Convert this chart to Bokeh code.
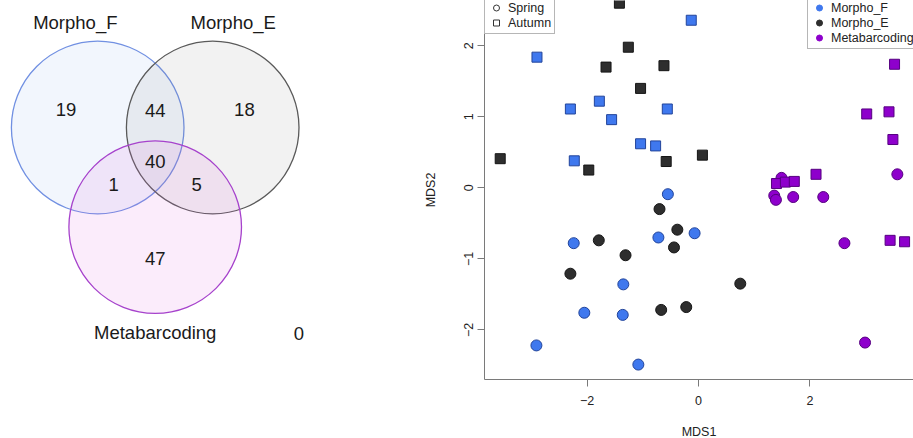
import math
from bokeh.plotting import figure
from bokeh.layouts import row
from bokeh.models import Range1d, FixedTicker, Legend, LegendItem, ColumnDataSource
from bokeh.core.properties import value
from bokeh.embed import file_html
from bokeh.resources import INLINE

# ---------------- data ----------------
set_names = ["Morpho_F", "Morpho_E", "Metabarcoding"]
# regions: F only, F&E, E only, F&E&M, F&M, E&M, M only, none
region_counts = [19, 44, 18, 40, 1, 5, 47, 0]

groups = ["Morpho_F", "Morpho_E", "Metabarcoding"]
seasons = ["Spring", "Autumn"]

morphoF_spring_mds1 = [-0.55, -2.24, -0.72, -0.07, -1.35, -2.05, -1.36, -2.91, -1.08]
morphoF_spring_mds2 = [-0.09, -0.78, -0.70, -0.64, -1.36, -1.76, -1.79, -2.22, -2.49]
morphoF_autumn_mds1 = [-0.13, -2.90, -2.30, -1.78, -1.56, -0.56, -1.04, -0.77, -2.23]
morphoF_autumn_mds2 = [2.36, 1.84, 1.11, 1.22, 0.96, 1.11, 0.62, 0.59, 0.38]

morphoE_spring_mds1 = [-0.70, -1.79, -0.38, -0.44, -1.31, -2.30, 0.75, -0.67, -0.22]
morphoE_spring_mds2 = [-0.30, -0.74, -0.59, -0.84, -0.95, -1.21, -1.35, -1.72, -1.68]
morphoE_autumn_mds1 = [-1.42, -1.26, -1.66, -0.62, -1.04, -3.56, -1.97, -0.58, 0.07]
morphoE_autumn_mds2 = [2.60, 1.98, 1.70, 1.72, 1.40, 0.41, 0.25, 0.37, 0.46]

metab_spring_mds1 = [3.57, 1.49, 1.36, 1.39, 1.70, 2.24, 2.62, 2.99]
metab_spring_mds2 = [0.19, 0.14, -0.11, -0.17, -0.13, -0.13, -0.78, -2.18]
metab_autumn_mds1 = [3.52, 3.02, 3.42, 3.49, 2.11, 1.40, 1.56, 1.72, 3.44, 3.70]
metab_autumn_mds2 = [1.74, 1.04, 1.07, 0.68, 0.19, 0.06, 0.08, 0.09, -0.74, -0.76]

x_ticks = [-2, 0, 2]
y_ticks = [-2, -1, 0, 1, 2]

# ---------------- styles ----------------
FONT = "Liberation Sans"
TXT = "#1a1a1a"
grp_fill = {"Morpho_F": "#3f78ee", "Morpho_E": "#2e2e2e", "Metabarcoding": "#8e00cc"}
grp_line = {"Morpho_F": "#22449a", "Morpho_E": "#151515", "Metabarcoding": "#560080"}

# ---------------- Venn diagram ----------------
VW, VH = 420, 438
venn = figure(frame_width=VW, frame_height=VH, x_range=Range1d(0, VW), y_range=Range1d(VH, 0),
              output_backend="svg", toolbar_location=None, min_border=0,
              x_axis_location=None, y_axis_location=None, outline_line_color=None,
              background_fill_color="white", border_fill_color="white")
venn.grid.visible = False

# geometry: three equal circles on an equilateral triangle
mid_x, top_y, d, r = 154.7, 127.0, 115.0, 86.3
cx = [mid_x - d / 2, mid_x + d / 2, mid_x]
cy = [top_y, top_y, top_y + d * math.sqrt(3) / 2]
venn.circle(x=cx, y=cy, radius=r,
            fill_color=["#4178e6", "#808080", "#e164e1"], fill_alpha=[0.065, 0.10, 0.12],
            line_color=["#7190e2", "#5a5a5a", "#a642cc"], line_width=1.3)

gx, gy = sum(cx) / 3, sum(cy) / 3

def unit(ax, ay):
    n = math.hypot(ax, ay)
    return ax / n, ay / n

def toward(i, dist):
    ux, uy = unit(cx[i] - gx, cy[i] - gy)
    return gx + ux * dist, gy + uy * dist

def away(i, dist):
    ux, uy = unit(gx - cx[i], gy - cy[i])
    return gx + ux * dist, gy + uy * dist

# single regions: outward toward own centre; pair regions: away from the third centre
pos = [toward(0, 103), away(2, 50), toward(1, 103), (gx, gy + 1), away(1, 48), away(0, 48), toward(2, 98),
       (cx[1] + r, cy[2] + 106.5)]
lab_x = [p[0] for p in pos]
lab_y = [p[1] for p in pos]
venn.text(x=lab_x, y=lab_y, text=[str(c) for c in region_counts], text_align="center", text_baseline="middle",
          text_font=value(FONT), text_font_size=value("18.5px"), text_color=TXT)

cat_ang = [-12.0, 11.0, 180.0]
cat_dist = [107.7, 107.3, 105.0]
cat_x = [cx[i] + cat_dist[i] * math.sin(math.radians(cat_ang[i])) for i in range(3)]
cat_y = [cy[i] - cat_dist[i] * math.cos(math.radians(cat_ang[i])) for i in range(3)]
venn.text(x=cat_x, y=cat_y, text=set_names, text_align="center", text_baseline="middle",
          text_font=value(FONT), text_font_size=value("18.5px"), text_color=TXT)

# ---------------- NMDS scatter ----------------
FW, FH = 429, 379
sc = figure(frame_width=FW, frame_height=FH, x_range=Range1d(-3.842, 3.860), y_range=Range1d(-2.70, 2.638),
            min_border_left=64, min_border_right=0, min_border_top=0, min_border_bottom=59,
            output_backend="svg", toolbar_location=None, outline_line_color=None,
            background_fill_color="white", border_fill_color="white",
            x_axis_label="MDS1", y_axis_label="MDS2")
sc.grid.visible = False

for ax in (sc.xaxis[0], sc.yaxis[0]):
    ax.axis_line_color = "#7a7a7a"
    ax.major_tick_line_color = "#7a7a7a"
    ax.minor_tick_line_color = None
    ax.major_tick_out = 7
    ax.major_tick_in = 0
    ax.major_label_text_font = FONT
    ax.major_label_text_font_size = "12.5px"
    ax.major_label_text_color = "#222222"
    ax.axis_label_text_font = FONT
    ax.axis_label_text_font_size = "12.5px"
    ax.axis_label_text_font_style = "normal"
    ax.axis_label_text_color = "#222222"

sc.xaxis.ticker = FixedTicker(ticks=x_ticks)
sc.yaxis.ticker = FixedTicker(ticks=y_ticks)
sc.xaxis.major_label_overrides = {t: str(t).replace("-", "\u2212") for t in x_ticks}
sc.yaxis.major_label_overrides = {t: str(t).replace("-", "\u2212") for t in y_ticks}
sc.xaxis.major_label_standoff = 9
sc.xaxis.axis_label_standoff = 17
sc.yaxis.major_label_standoff = 4
sc.yaxis.major_label_orientation = "vertical"
sc.yaxis.axis_label_standoff = 24

data = {
    ("Morpho_F", "Spring"): (morphoF_spring_mds1, morphoF_spring_mds2),
    ("Morpho_E", "Spring"): (morphoE_spring_mds1, morphoE_spring_mds2),
    ("Metabarcoding", "Spring"): (metab_spring_mds1, metab_spring_mds2),
    ("Morpho_F", "Autumn"): (morphoF_autumn_mds1, morphoF_autumn_mds2),
    ("Morpho_E", "Autumn"): (morphoE_autumn_mds1, morphoE_autumn_mds2),
    ("Metabarcoding", "Autumn"): (metab_autumn_mds1, metab_autumn_mds2),
}
for season in seasons:
    for g in groups:
        xs, ys = data[(g, season)]
        src = ColumnDataSource(dict(x=xs, y=ys))
        if season == "Spring":
            sc.scatter("x", "y", source=src, marker="circle", size=11,
                       fill_color=grp_fill[g], line_color=grp_line[g], line_width=1)
        else:
            sc.scatter("x", "y", source=src, marker="square", size=10,
                       fill_color=grp_fill[g], line_color=grp_line[g], line_width=1)

# legend-only renderers (one NaN row so the legend can draw their glyphs)
def proxy():
    return ColumnDataSource(dict(x=[float("nan")], y=[float("nan")]))

r_spring = sc.scatter("x", "y", source=proxy(), marker="circle", fill_color=None, line_color="#333333", line_width=1)
r_autumn = sc.scatter("x", "y", source=proxy(), marker="square", fill_color=None, line_color="#333333", line_width=1)
r_grp = [sc.scatter("x", "y", source=proxy(), marker="circle", fill_color=grp_fill[g], line_color=grp_fill[g])
         for g in groups]

def make_legend(items, loc):
    return Legend(items=items, location=loc, padding=3, spacing=0, margin=0,
                  glyph_width=16, glyph_height=15, label_height=15, label_standoff=4,
                  label_text_font=FONT, label_text_font_size="12.5px", label_text_color="#222222",
                  border_line_color="#6e6e6e", border_line_width=1,
                  background_fill_color="white", background_fill_alpha=1.0)

leg_season = make_legend([LegendItem(label=s, renderers=[rr]) for s, rr in zip(seasons, [r_spring, r_autumn])],
                         (0, FH - 34))
leg_group = make_legend([LegendItem(label=g, renderers=[rr]) for g, rr in zip(groups, r_grp)],
                        (FW - 106, FH - 49))
sc.add_layout(leg_season)
sc.add_layout(leg_group)

layout = row(venn, sc)
open("out.html", "w").write(file_html(layout, INLINE))
